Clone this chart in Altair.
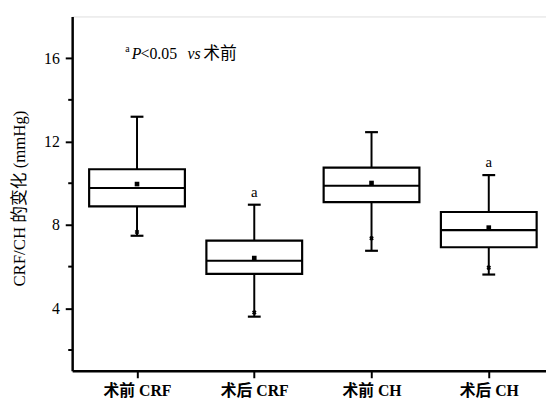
import json
import altair as alt
import pandas as pd

categories = ["术前 CRF", "术后 CRF", "术前 CH", "术后 CH"]
whisker_low = [7.48, 3.60, 6.76, 5.62]
q1 = [8.89, 5.65, 9.09, 6.93]
median = [9.77, 6.28, 9.88, 7.75]
q3 = [10.67, 7.25, 10.75, 8.62]
whisker_high = [13.19, 8.97, 12.45, 10.39]
mean = [9.96, 6.41, 10.01, 7.87]
pct1 = [7.66, 3.80, 7.36, 5.95]
sig = ["", "a", "", "a"]
major_ticks = [4, 8, 12, 16]
minor_ticks = [2, 6, 10, 14]

df = pd.DataFrame({
    "idx": list(range(len(categories))),
    "cat": categories,
    "lo": whisker_low, "q1": q1, "med": median, "q3": q3,
    "hi": whisker_high, "mean": mean, "p1": pct1, "sig": sig,
})

SERIF = "Liberation Serif, Times New Roman, Noto Sans CJK SC, serif"
labels_js = json.dumps(categories, ensure_ascii=False)

xscale = alt.Scale(domain=[-0.511, 3.446], nice=False, zero=False)
yscale = alt.Scale(domain=[1, 18], nice=False, zero=False)

xenc = alt.X("idx:Q", scale=xscale, axis=alt.Axis(
    values=[0, 1, 2, 3], labelExpr=f"{labels_js}[datum.value]", title=None,
    grid=False, tickSize=7, tickWidth=2, domainWidth=2.5, domainColor="black",
    tickColor="black", labelFont=SERIF, labelFontSize=16, labelColor="black",
    labelPadding=5, labelFontWeight="bold"))

yaxis = alt.Axis(
    values=major_ticks, title="CRF/CH 的变化 (mmHg)", grid=False, tickSize=7,
    tickWidth=2, domainWidth=2.5, domainColor="black", tickColor="black",
    labelFont=SERIF, labelFontSize=16, labelColor="black", labelPadding=6,
    titleFont=SERIF, titleFontSize=17, titleFontWeight="normal", titleColor="black",
    titleX=-53, titleY=184, titleAngle=270, titleBaseline="middle", titleAlign="center")

base = alt.Chart(df)

whisk = base.mark_rule(color="black", strokeWidth=2, opacity=1).encode(
    x=xenc, y=alt.Y("lo:Q", scale=yscale, axis=yaxis), y2="hi:Q")

box = base.mark_bar(fill="white", stroke="black", strokeWidth=2.2, size=97, opacity=1).encode(
    x="idx:Q", y="q1:Q", y2="q3:Q")

med = base.mark_tick(orient="horizontal", color="black", size=97, thickness=2.2, opacity=1).encode(
    x="idx:Q", y="med:Q")

cap_lo = base.mark_tick(orient="horizontal", color="black", size=13, thickness=2.2, opacity=1).encode(
    x="idx:Q", y="lo:Q")
cap_hi = base.mark_tick(orient="horizontal", color="black", size=13, thickness=2.2, opacity=1).encode(
    x="idx:Q", y="hi:Q")

mean_pt = base.mark_square(color="black", size=22, opacity=1).encode(
    x="idx:Q", y="mean:Q")

p1_pt = base.mark_point(shape="cross", angle=45, filled=True, color="black", size=22, opacity=1).encode(
    x="idx:Q", y="p1:Q")

sig_txt = base.mark_text(font=SERIF, fontSize=15, color="black", baseline="middle", dy=-13).encode(
    x="idx:Q", y="hi:Q", text="sig:N")

minor = alt.Chart(pd.DataFrame({"v": minor_ticks})).mark_rule(color="black", strokeWidth=2).encode(
    x=alt.value(-4), x2=alt.value(0), y="v:Q")

# annotation "aP<0.05 vs 术前"
ann_parts = [
    {"t": "a", "x": -0.10, "dy": -5, "size": 10, "style": "normal"},
    {"t": "P", "x": -0.045, "dy": 0, "size": 16, "style": "italic"},
    {"t": "<0.05", "x": 0.03, "dy": 0, "size": 16, "style": "normal"},
    {"t": "vs", "x": 0.43, "dy": 0, "size": 16, "style": "italic"},
    {"t": "术前", "x": 0.565, "dy": 0, "size": 17, "style": "normal"},
]
ann_layers = []
for p in ann_parts:
    ann_layers.append(
        alt.Chart(pd.DataFrame({"t": [p["t"]], "x": [p["x"]], "y": [16.2]})).mark_text(
            font=SERIF, fontSize=p["size"], fontStyle=p["style"], color="black",
            align="left", baseline="middle", dy=p["dy"]).encode(
            x="x:Q", y="y:Q", text="t:N"))

chart = alt.layer(whisk, box, med, cap_lo, cap_hi, mean_pt, p1_pt, sig_txt, minor, *ann_layers).properties(
    width=480, height=359,
    autosize=alt.AutoSizeParams(type="none"),
    padding={"left": 65, "top": 6, "right": 0, "bottom": 30},
).configure_view(stroke=None).configure(background="white")

chart.save("out.html", embed_options={"renderer": "svg", "actions": False})
